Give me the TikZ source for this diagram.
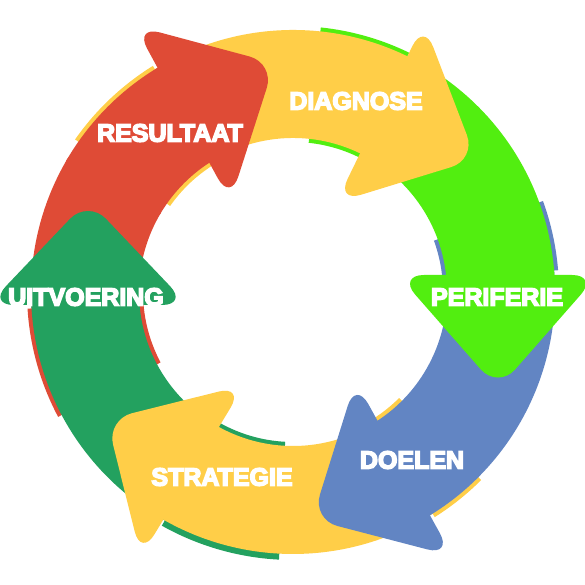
\documentclass[tikz,border=0pt]{standalone}
\usepackage{fontspec}
\newfontfamily\cyclefont{Liberation Sans Bold}[FakeBold=6]
\definecolor{resred}{HTML}{DF4B36}
\definecolor{sunyellow}{HTML}{FFCE48}
\definecolor{limegreen}{HTML}{52EE10}
\definecolor{steelblue}{HTML}{6285C3}
\definecolor{leafgreen}{HTML}{23A15F}
\newcommand\ringpath[4]{(#1:#3) arc[start angle=#1, end angle=#2, radius=#3]
  -- (#2:#4) arc[start angle=#2, end angle=#1, radius=#4] -- cycle}
\newcommand\headpath[1]{(0,0) -- (100,0) -- (0,-#1) -- (-100,0) -- cycle}
\tikzset{
  headshape/.style={rounded corners=26pt},
  cyclelabel/.style={text=white, inner sep=0pt,
    font=\cyclefont\fontsize{25}{25}\selectfont}
}

\begin{document}
\begin{tikzpicture}[x=1pt, y=1pt]
  \useasboundingbox (0,0) rectangle (585,585);
  \fill[white] (0,0) rectangle (585,585);
  \begin{scope}[shift={(293,293)}]
    \fill[resred] \ringpath{208}{183.6}{266}{150};
    \fill[resred] \ringpath{208}{149}{262}{154};

    \fill[leafgreen] \ringpath{-93}{-119.3}{268}{150};
    \fill[leafgreen] \ringpath{-93}{-178.4}{262}{154};
    \fill[leafgreen, headshape, shift={(-205,-13)}, rotate=180] \headpath{105};

    \fill[sunyellow] \ringpath{-45}{-57.8}{266}{150};
    \fill[sunyellow] \ringpath{-45}{-121.3}{262}{154};
    \fill[sunyellow, headshape, shift={(-100.5,-179)}, rotate=-121] \headpath{100};

    \fill[steelblue] \ringpath{20}{4.7}{266}{150};
    \fill[steelblue] \ringpath{20}{-59.8}{262}{154};
    \fill[steelblue, headshape, shift={(111,-176.5)}, rotate=-61] \headpath{105};

    \fill[limegreen] \ringpath{84}{64.1}{266}{150};
    \fill[limegreen] \ringpath{84}{2.7}{262}{154};
    \fill[limegreen, headshape, shift={(205,17)}, rotate=0] \headpath{114};

    \fill[sunyellow] \ringpath{145}{121.8}{266}{150};
    \fill[sunyellow] \ringpath{145}{62.1}{262}{154};
    \fill[sunyellow, headshape, shift={(87,179.5)}, rotate=64] \headpath{107};

    \fill[resred] \ringpath{150}{119.8}{262}{154};
    \fill[resred, headshape, shift={(-110.5,178.5)}, rotate=118.6] \headpath{105};

    \node[cyclelabel] (resultaat) at (-123,159) {RESULTAAT};
    \node[cyclelabel] (diagnose) at (63,191) {DIAGNOSE};
    \node[cyclelabel] (periferie) at (204,-5) {PERIFERIE};
    \node[cyclelabel] (doelen) at (119,-168) {DOELEN};
    \node[cyclelabel] (strategie) at (-71,-185) {STRATEGIE};
    \node[cyclelabel] (uitvoering) at (-207,-5) {UITVOERING};
  \end{scope}
\end{tikzpicture}
\end{document}
